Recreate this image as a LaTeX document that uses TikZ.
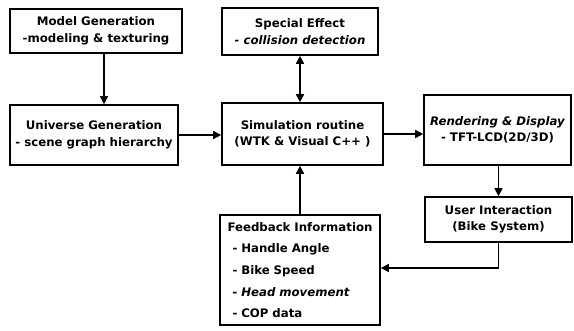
\documentclass[tikz,border=0pt]{standalone}
\usepackage{fontspec}
\setmainfont{DejaVu Sans}
\usetikzlibrary{arrows.meta}

\begin{document}
\begin{tikzpicture}[x=1bp, y=-1bp]
    \tikzstyle{block}=[
        draw = black,
        line width = 1.6bp,
        fill = white,
        inner sep = 0pt,
        align = center,
        font = \fontsize{11.8}{16.5}\selectfont\bfseries
    ]
    \tikzstyle{flow}=[
        line width = 1.6bp,
        -{Triangle[length=8bp, width=8bp]}
    ]
    \tikzstyle{twoway}=[
        line width = 1.6bp,
        {Triangle[length=8bp, width=8bp]}-{Triangle[length=8bp, width=8bp]}
    ]

    \useasboundingbox[fill=white] (0,0) rectangle (574,330);

	\node[block, minimum width=172bp, minimum height=44bp] (model)    at (96, 31)      {Model Generation\\-modeling \& texturing};
	\node[block, minimum width=168bp, minimum height=60bp] (univ)     at (94, 135)     {Universe Generation\\- scene graph hierarchy};
	\node[block, minimum width=156bp, minimum height=47bp] (special)  at (300, 31.5)   {Special Effect\\{\itshape - collision detection}};
	\node[block, minimum width=161bp, minimum height=62bp] (sim)      at (302.5, 134)  {Simulation routine\\(WTK \& Visual C++ )};
	\node[block, minimum width=147bp, minimum height=70bp] (render)   at (497.5, 130)  {{\itshape Rendering \& Display}\\- TFT-LCD(2D/3D)};
	\node[block, minimum width=147bp, minimum height=45bp] (user)     at (498.5, 219.5) {User Interaction\\(Bike System)};
	\node[block, minimum width=160bp, minimum height=110bp, text width=145bp, align=left,
	      font=\fontsize{11.8}{21.7}\selectfont\bfseries] (feedback) at (300, 270)
	      {Feedback Information\\
	       \hspace*{5bp}- Handle Angle\\
	       \hspace*{5bp}- Bike Speed\\
	       \hspace*{5bp}{\itshape - Head movement}\\
	       \hspace*{5bp}- COP data};

	\draw[flow] ([xshift=8bp]model.south) -- ([xshift=8bp]model.south |- univ.north);
	\draw[flow] (univ.east) -- (univ.east -| sim.west);
	\draw[twoway] (special.south) -- (special.south |- sim.north);
	\draw[flow] (sim.east) -- (sim.east -| render.west);
	\draw[flow] ([xshift=1bp]render.south) -- ([xshift=1bp]render.south |- user.north);
	\draw[flow] (feedback.north) -- (feedback.north |- sim.south);
	\draw[flow] (user.south) |- ([yshift=2bp]feedback.east);

	\end{tikzpicture}
\end{document}
